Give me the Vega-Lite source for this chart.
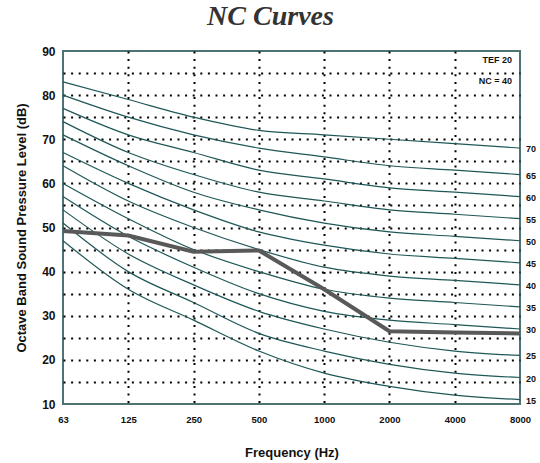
{
  "$schema": "https://vega.github.io/schema/vega-lite/v6.json",
  "width": 457,
  "height": 353,
  "autosize": {"type": "none"},
  "padding": {"left": 63, "top": 51, "right": 20, "bottom": 59},
  "title": {"text": "NC Curves", "font": "Liberation Serif", "fontSize": 28, "fontWeight": "bold", "fontStyle": "italic", "color": "#333333", "offset": 14, "dx": -21},
  "config": {"view": {"stroke": "#4f7373", "strokeWidth": 2}, "font": "Liberation Sans"},
  "datasets": {
    "curves": [
      {"nc":15,"f":"63","spl":47},{"nc":15,"f":"125","spl":36},{"nc":15,"f":"250","spl":29},{"nc":15,"f":"500","spl":22},{"nc":15,"f":"1000","spl":17},{"nc":15,"f":"2000","spl":14},{"nc":15,"f":"4000","spl":12},{"nc":15,"f":"8000","spl":11},
      {"nc":20,"f":"63","spl":51},{"nc":20,"f":"125","spl":40},{"nc":20,"f":"250","spl":33},{"nc":20,"f":"500","spl":26},{"nc":20,"f":"1000","spl":22},{"nc":20,"f":"2000","spl":19},{"nc":20,"f":"4000","spl":17},{"nc":20,"f":"8000","spl":16},
      {"nc":25,"f":"63","spl":54},{"nc":25,"f":"125","spl":44},{"nc":25,"f":"250","spl":37},{"nc":25,"f":"500","spl":31},{"nc":25,"f":"1000","spl":27},{"nc":25,"f":"2000","spl":24},{"nc":25,"f":"4000","spl":22},{"nc":25,"f":"8000","spl":21},
      {"nc":30,"f":"63","spl":57},{"nc":30,"f":"125","spl":48},{"nc":30,"f":"250","spl":41},{"nc":30,"f":"500","spl":35},{"nc":30,"f":"1000","spl":31},{"nc":30,"f":"2000","spl":29},{"nc":30,"f":"4000","spl":28},{"nc":30,"f":"8000","spl":27},
      {"nc":35,"f":"63","spl":60},{"nc":35,"f":"125","spl":52},{"nc":35,"f":"250","spl":45},{"nc":35,"f":"500","spl":40},{"nc":35,"f":"1000","spl":36},{"nc":35,"f":"2000","spl":34},{"nc":35,"f":"4000","spl":33},{"nc":35,"f":"8000","spl":32},
      {"nc":40,"f":"63","spl":64},{"nc":40,"f":"125","spl":56},{"nc":40,"f":"250","spl":50},{"nc":40,"f":"500","spl":45},{"nc":40,"f":"1000","spl":41},{"nc":40,"f":"2000","spl":39},{"nc":40,"f":"4000","spl":38},{"nc":40,"f":"8000","spl":37},
      {"nc":45,"f":"63","spl":67},{"nc":45,"f":"125","spl":60},{"nc":45,"f":"250","spl":54},{"nc":45,"f":"500","spl":49},{"nc":45,"f":"1000","spl":46},{"nc":45,"f":"2000","spl":44},{"nc":45,"f":"4000","spl":43},{"nc":45,"f":"8000","spl":42},
      {"nc":50,"f":"63","spl":71},{"nc":50,"f":"125","spl":64},{"nc":50,"f":"250","spl":58},{"nc":50,"f":"500","spl":54},{"nc":50,"f":"1000","spl":51},{"nc":50,"f":"2000","spl":49},{"nc":50,"f":"4000","spl":48},{"nc":50,"f":"8000","spl":47},
      {"nc":55,"f":"63","spl":74},{"nc":55,"f":"125","spl":67},{"nc":55,"f":"250","spl":62},{"nc":55,"f":"500","spl":58},{"nc":55,"f":"1000","spl":56},{"nc":55,"f":"2000","spl":54},{"nc":55,"f":"4000","spl":53},{"nc":55,"f":"8000","spl":52},
      {"nc":60,"f":"63","spl":77},{"nc":60,"f":"125","spl":71},{"nc":60,"f":"250","spl":67},{"nc":60,"f":"500","spl":63},{"nc":60,"f":"1000","spl":61},{"nc":60,"f":"2000","spl":59},{"nc":60,"f":"4000","spl":58},{"nc":60,"f":"8000","spl":57},
      {"nc":65,"f":"63","spl":80},{"nc":65,"f":"125","spl":75},{"nc":65,"f":"250","spl":71},{"nc":65,"f":"500","spl":68},{"nc":65,"f":"1000","spl":66},{"nc":65,"f":"2000","spl":64},{"nc":65,"f":"4000","spl":63},{"nc":65,"f":"8000","spl":62},
      {"nc":70,"f":"63","spl":83},{"nc":70,"f":"125","spl":79},{"nc":70,"f":"250","spl":75},{"nc":70,"f":"500","spl":72},{"nc":70,"f":"1000","spl":71},{"nc":70,"f":"2000","spl":70},{"nc":70,"f":"4000","spl":69},{"nc":70,"f":"8000","spl":68}
    ],
    "measured": [
      {"f":"63","spl":49.2},{"f":"125","spl":48.2},{"f":"250","spl":44.5},{"f":"500","spl":44.8},{"f":"1000","spl":36},{"f":"2000","spl":26.5},{"f":"4000","spl":26.2},{"f":"8000","spl":26}
    ],
    "notes": [
      {"f":"8000","spl":87.9,"label":"TEF 20"},
      {"f":"8000","spl":83.3,"label":"NC = 40"}
    ]
  },
  "encoding": {
    "x": {
      "field": "f", "type": "ordinal",
      "scale": {"type": "point", "padding": 0, "domain": ["63","125","250","500","1000","2000","4000","8000"]},
      "axis": {
        "title": "Frequency (Hz)", "titleFont": "Liberation Sans", "titleFontSize": 13, "titleFontWeight": "bold", "titleColor": "#111111", "titlePadding": 23,
        "labelAngle": 0, "labelFont": "Liberation Sans", "labelFontSize": 9.5, "labelFontWeight": "bold", "labelColor": "#111111", "labelPadding": 10,
        "ticks": false, "domain": false,
        "grid": true, "gridColor": "#000000", "gridWidth": 2, "gridDash": [2, 5.6],
        "gridOpacity": {"condition": {"test": "datum.value == '63' || datum.value == '8000'", "value": 0}, "value": 1}
      }
    },
    "y": {
      "field": "spl", "type": "quantitative",
      "scale": {"domain": [10, 90], "nice": false, "zero": false},
      "axis": {
        "title": "Octave Band Sound Pressure Level (dB)", "titleFont": "Liberation Sans", "titleFontSize": 13, "titleFontWeight": "bold", "titleColor": "#111111", "titlePadding": 13,
        "values": [10,15,20,25,30,35,40,45,50,55,60,65,70,75,80,85,90],
        "labelExpr": "datum.value % 10 == 0 ? datum.label : ''",
        "labelFont": "Liberation Sans", "labelFontSize": 12, "labelFontWeight": "bold", "labelColor": "#111111", "labelPadding": 8,
        "ticks": false, "domain": false,
        "grid": true, "gridColor": "#000000", "gridWidth": 2, "gridDash": [2, 5.6],
        "gridOpacity": {"condition": {"test": "datum.value == 10 || datum.value == 90", "value": 0}, "value": 1}
      }
    }
  },
  "layer": [
    {
      "data": {"name": "curves"},
      "mark": {"type": "line", "color": "#1f5757", "strokeWidth": 1.2, "interpolate": "monotone"},
      "encoding": {"detail": {"field": "nc"}, "order": {"value": null}}
    },
    {
      "data": {"name": "measured"},
      "mark": {"type": "line", "color": "#595959", "strokeWidth": 4},
      "encoding": {"order": {"value": null}}
    },
    {
      "data": {"name": "curves"},
      "transform": [{"filter": "datum.f == '8000'"}],
      "mark": {"type": "text", "align": "left", "baseline": "middle", "dx": 6, "dy": 1, "font": "Liberation Sans", "fontSize": 9, "fontWeight": "bold", "color": "#111111"},
      "encoding": {"text": {"field": "nc"}}
    },
    {
      "data": {"name": "notes"},
      "mark": {"type": "text", "align": "right", "baseline": "middle", "dx": -8, "font": "Liberation Sans", "fontSize": 9, "fontWeight": "bold", "color": "#111111"},
      "encoding": {"text": {"field": "label"}}
    }
  ]
}
